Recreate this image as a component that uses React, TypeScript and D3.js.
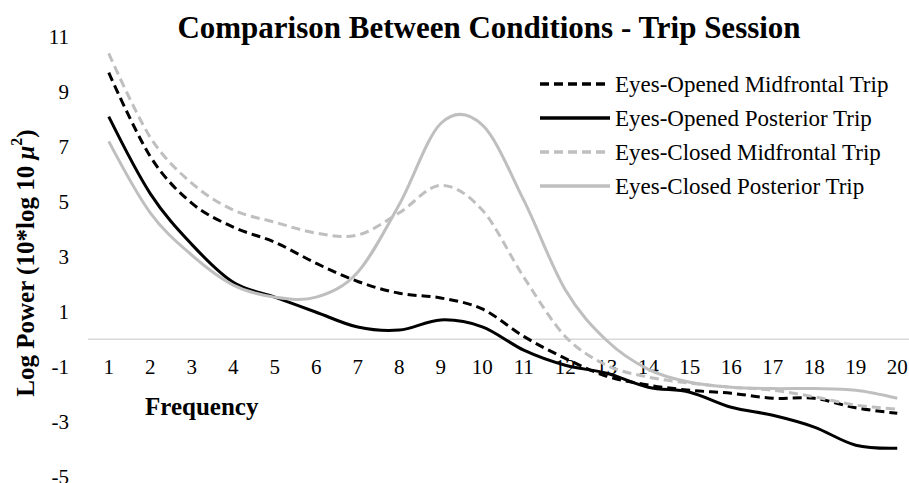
import * as d3 from 'd3';

// frequency bins (Hz)
const frequencies = [1, 2, 3, 4, 5, 6, 7, 8, 9, 10, 11, 12, 13, 14, 15, 16, 17, 18, 19, 20];
const yTicks = [11, 9, 7, 5, 3, 1, -1, -3, -5];

const openMidfrontal = [9.7, 6.65, 4.95, 4.08, 3.53, 2.76, 2.1, 1.67, 1.5, 1.1, 0.1, -0.7, -1.35, -1.67, -1.86, -1.97, -2.15, -2.15, -2.5, -2.7];
const openPosterior = [8.1, 5.3, 3.45, 2.07, 1.53, 0.98, 0.44, 0.33, 0.7, 0.45, -0.4, -0.95, -1.24, -1.75, -1.93, -2.48, -2.77, -3.2, -3.86, -3.97];
const closedMidfrontal = [10.4, 7.35, 5.68, 4.7, 4.26, 3.86, 3.79, 4.6, 5.6, 4.7, 2.26, 0.1, -0.95, -1.38, -1.6, -1.75, -1.86, -2.1, -2.4, -2.55];
const closedPosterior = [7.2, 4.6, 3.06, 1.97, 1.53, 1.53, 2.44, 4.9, 7.85, 7.8, 5.06, 1.8, -0.05, -1.1, -1.57, -1.75, -1.8, -1.8, -1.86, -2.15];

const seriesNames = [
  'Eyes-Opened Midfrontal Trip',
  'Eyes-Opened Posterior Trip',
  'Eyes-Closed Midfrontal Trip',
  'Eyes-Closed Posterior Trip',
];

const W = 909;
const H = 483;
const FONT = '"Liberation Serif", "Times New Roman", serif';

const App = () => {
  const x = d3.scalePoint<number>().domain(frequencies).range([88, 918]).padding(0.5);
  const y = d3.scaleLinear().domain([-5, 11]).range([476.5, 37]);

  const series = [
    { name: seriesNames[0], values: openMidfrontal, color: '#000000', dash: '9,5' },
    { name: seriesNames[1], values: openPosterior, color: '#000000', dash: null },
    { name: seriesNames[2], values: closedMidfrontal, color: '#bfbfbf', dash: '9,5' },
    { name: seriesNames[3], values: closedPosterior, color: '#bfbfbf', dash: null },
  ];

  // Excel-style smoothing
  const line = d3.line<number>()
    .x((_, i) => x(frequencies[i]) as number)
    .y(d => y(d))
    .curve(d3.curveCardinal.tension(0));

  return (
    <svg width={W} height={H} style={{ position: 'absolute', left: 0, top: 0, background: '#fff' }}
      fontFamily={FONT}>
      {/* title */}
      <text x={489} y={27} textAnchor="middle" dominantBaseline="central"
        fontSize={31} fontWeight="bold">Comparison Between Conditions - Trip Session</text>

      {/* zero line */}
      <line x1={88} x2={918} y1={y(0)} y2={y(0)} stroke="#d9d9d9" strokeWidth={1.5} />

      {/* y tick labels */}
      {yTicks.map(t => (
        <text key={t} x={69} y={y(t)} textAnchor="end" dominantBaseline="central" fontSize={21}>{t}</text>
      ))}

      {/* x tick labels */}
      {frequencies.map(f => (
        <text key={f} x={x(f)} y={367} textAnchor="middle" dominantBaseline="central" fontSize={21}>{f}</text>
      ))}

      {/* axis titles */}
      <text x={145} y={415} fontSize={25} fontWeight="bold">Frequency</text>
      <text transform="translate(25,263) rotate(-90)" textAnchor="middle" dominantBaseline="central"
        fontSize={25} fontWeight="bold">
        Log Power (10*log 10 <tspan fontStyle="italic">μ</tspan><tspan dy={-9} fontSize={16}>2</tspan><tspan dy={9}>)</tspan>
      </text>

      {/* lines */}
      {series.map(s => (
        <path key={s.name} d={line(s.values) || ''} fill="none" stroke={s.color} strokeWidth={3}
          strokeDasharray={s.dash || undefined} />
      ))}

      {/* legend */}
      {series.map((s, i) => (
        <g key={s.name} transform={`translate(540, ${84 + i * 34})`}>
          <line x1={0} x2={70} y1={0} y2={0} stroke={s.color} strokeWidth={3.5}
            strokeDasharray={s.dash || undefined} />
          <text x={75} y={0} dominantBaseline="central" fontSize={23}>{s.name}</text>
        </g>
      ))}
    </svg>
  );
};

export default App;
